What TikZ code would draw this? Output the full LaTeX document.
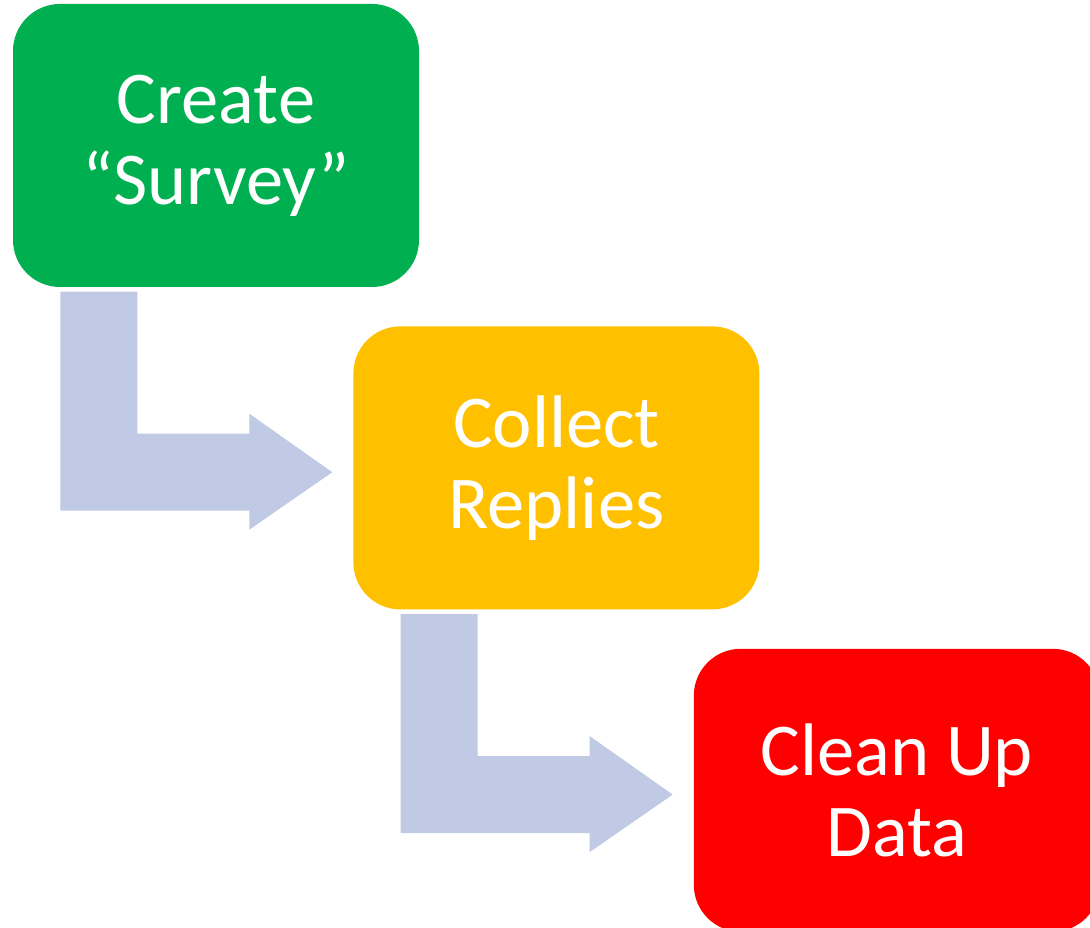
\documentclass[tikz,border=0pt]{standalone}
\usepackage{fontspec}
\setmainfont{Carlito}
\usetikzlibrary{positioning}
\definecolor{stepgreen}{HTML}{00B050}
\definecolor{stepyellow}{HTML}{FFC000}
\definecolor{stepred}{HTML}{FF0000}
\definecolor{flowblue}{RGB}{192,202,228}
\begin{document}
\begin{tikzpicture}[stepbox/.style={minimum width=4.06cm,minimum height=2.83cm,rounded corners=0.47cm,text=white,align=center,font=\fontsize{21.2}{23}\selectfont,inner sep=0pt},flow/.style={fill=flowblue}]
\clip(0,0)rectangle(10.9,-9.28);
\node[stepbox,fill=stepgreen](create)at(2.16,-1.455){Create\\“Survey”};
\node[stepbox,fill=stepyellow,below right=0.38cm and -0.67cm of create](collect){Collect\\Replies};
\node[stepbox,fill=stepred,below right=0.38cm and -0.67cm of collect](clean){Clean Up\\Data};
\foreach \a in {create,collect}
\fill[flow,shift={(\a.south west)}](0.48,-0.04)--(1.25,-0.04)--(1.25,-1.46)--(2.37,-1.46)--(2.37,-1.26)--(3.2,-1.845)--(2.37,-2.42)--(2.37,-2.23)--(0.48,-2.23)--cycle;
\end{tikzpicture}
\end{document}
